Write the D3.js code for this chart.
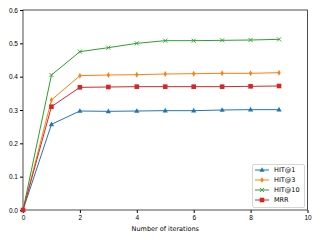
<!DOCTYPE html>
<html>
<head>
<meta charset="utf-8">
<script src="https://cdn.jsdelivr.net/npm/d3@7"></script>
<style>
  body { margin: 0; background: #fff; }
  svg { font-family: "DejaVu Sans", sans-serif; }
</style>
</head>
<body>
<div id="chart"></div>
<script>
const iterations = [0, 1, 2, 3, 4, 5, 6, 7, 8, 9];
const hit1  = [0, 0.257, 0.297, 0.296, 0.297, 0.298, 0.298, 0.300, 0.301, 0.301];
const hit3  = [0, 0.330, 0.403, 0.405, 0.406, 0.408, 0.409, 0.410, 0.410, 0.412];
const hit10 = [0, 0.405, 0.475, 0.487, 0.500, 0.508, 0.508, 0.509, 0.510, 0.512];
const mrr   = [0, 0.310, 0.368, 0.369, 0.370, 0.370, 0.370, 0.370, 0.371, 0.372];
const xTicks = [0, 2, 4, 6, 8, 10];
const yTicks = [0, 0.1, 0.2, 0.3, 0.4, 0.5, 0.6];

const series = [
    { name: "HIT@1", values: hit1, color: "#1f77b4", marker: "triangle" },
    { name: "HIT@3", values: hit3, color: "#ff7f0e", marker: "diamond" },
    { name: "HIT@10", values: hit10, color: "#2ca02c", marker: "x" },
    { name: "MRR", values: mrr, color: "#d62728", marker: "square" }
];

const width = 320,
      height = 240,
      margin = ({ top: 10, right: 12.5, bottom: 30, left: 23 });

let svg = d3.select("#chart")
    .append("svg")
    .attr("width", width)
    .attr("height", height);

let x = d3.scaleLinear()
    .domain([0, 10])
    .range([margin.left, width - margin.right]);

let y = d3.scaleLinear()
    .domain([0, 0.6])
    .range([height - margin.bottom, margin.top]);

// axes
svg.append("g")
    .attr("transform", `translate(0,${height - margin.bottom})`)
    .call(d3.axisBottom(x).tickValues(xTicks).tickFormat(d3.format("d")).tickSize(3).tickPadding(2))
    .call(g => g.select(".domain").remove())
    .call(g => g.selectAll("text").attr("font-size", 6.5).attr("fill", "#000"));

svg.append("g")
    .attr("transform", `translate(${margin.left},0)`)
    .call(d3.axisLeft(y).tickValues(yTicks).tickFormat(d3.format(".1f")).tickSize(3).tickPadding(2))
    .call(g => g.select(".domain").remove())
    .call(g => g.selectAll("text").attr("font-size", 6.5).attr("fill", "#000"));

// frame
svg.append("rect")
    .attr("x", margin.left)
    .attr("y", margin.top)
    .attr("width", width - margin.right - margin.left)
    .attr("height", height - margin.bottom - margin.top)
    .attr("fill", "none")
    .attr("stroke", "#222")
    .attr("stroke-width", 0.8);

svg.append("text")
    .attr("x", (margin.left + width - margin.right) / 2)
    .attr("y", 231)
    .attr("text-anchor", "middle")
    .attr("font-size", 6.5)
    .text("Number of iterations");

function drawMarker(g, type, color) {
    if (type === "triangle") {
        g.append("path").attr("d", "M0,-2.8L2.6,1.8L-2.6,1.8Z").attr("fill", color);
    } else if (type === "diamond") {
        g.append("path").attr("d", "M0,-3L1.6,0L0,3L-1.6,0Z").attr("fill", color);
    } else if (type === "x") {
        g.append("path").attr("d", "M-2,-2L2,2M-2,2L2,-2").attr("stroke", color).attr("stroke-width", 0.9);
    } else {
        g.append("rect").attr("x", -2.3).attr("y", -2.3).attr("width", 4.6).attr("height", 4.6).attr("fill", color);
    }
}

let line = d3.line()
    .x((d, i) => x(iterations[i]))
    .y(d => y(d));

for (let s of series) {
    svg.append("path")
        .datum(s.values)
        .attr("fill", "none")
        .attr("stroke", s.color)
        .attr("stroke-width", 1)
        .attr("d", line);

    s.values.forEach((v, i) => {
        let g = svg.append("g").attr("transform", `translate(${x(iterations[i])},${y(v)})`);
        drawMarker(g, s.marker, s.color);
    });
}

// legend
let legend = svg.append("g");
legend.append("rect")
    .attr("x", 252.5)
    .attr("y", 164.5)
    .attr("width", 52)
    .attr("height", 43)
    .attr("rx", 1.5)
    .attr("fill", "#fff")
    .attr("fill-opacity", 0.8)
    .attr("stroke", "#ccc")
    .attr("stroke-width", 0.8);

series.forEach((s, i) => {
    let yy = 170 + i * 10;
    legend.append("line")
        .attr("x1", 255).attr("x2", 269)
        .attr("y1", yy).attr("y2", yy)
        .attr("stroke", s.color)
        .attr("stroke-width", 1);
    let g = legend.append("g").attr("transform", `translate(262,${yy})`);
    drawMarker(g, s.marker, s.color);
    legend.append("text")
        .attr("x", 274)
        .attr("y", yy + 2.3)
        .attr("font-size", 6.5)
        .text(s.name);
});
</script>
</body>
</html>
